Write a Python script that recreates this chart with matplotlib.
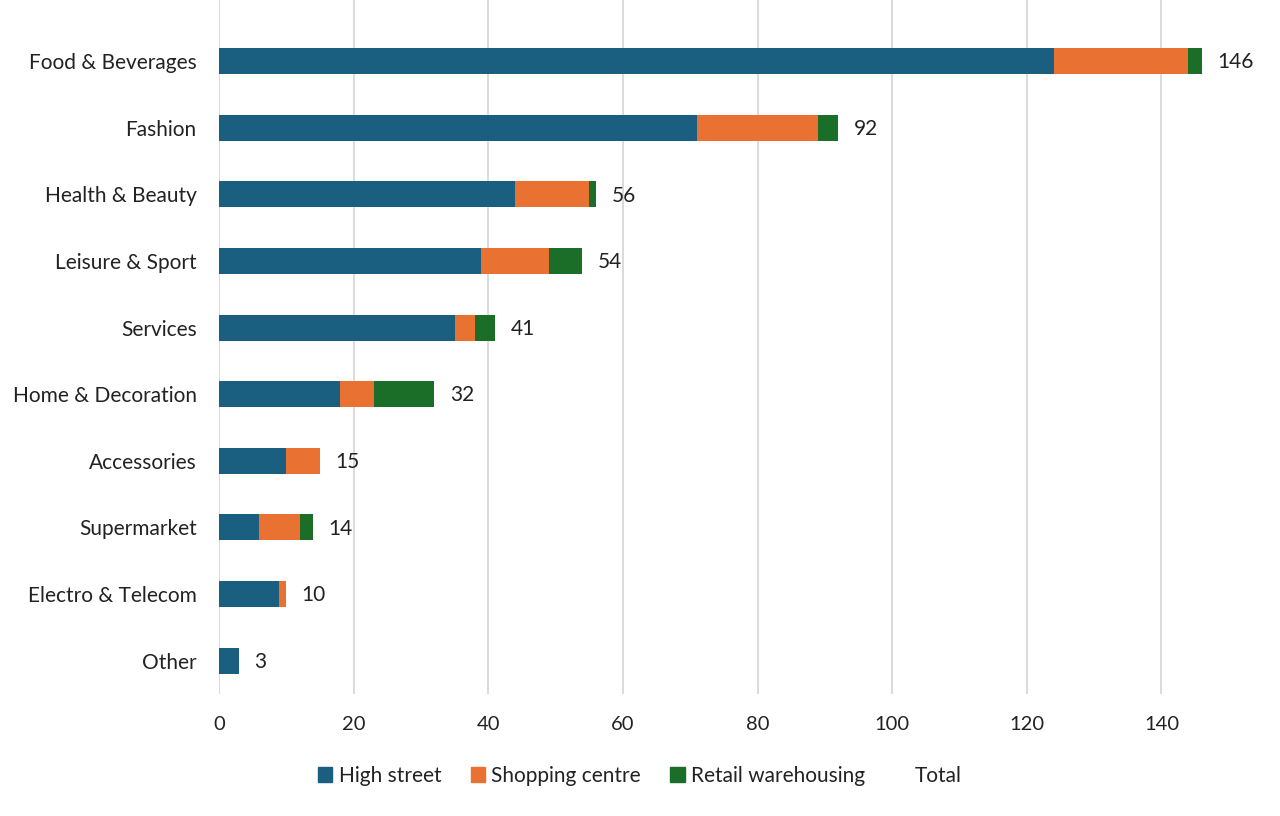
import matplotlib
matplotlib.use("Agg")
import matplotlib.pyplot as plt
from matplotlib.patches import Patch
import numpy as np

plt.rcParams['font.family'] = ['Lato', 'DejaVu Sans']

categories = ['Food & Beverages', 'Fashion', 'Health & Beauty', 'Leisure & Sport', 'Services',
              'Home & Decoration', 'Accessories', 'Supermarket', 'Electro & Telecom', 'Other']
high_street = [124, 71, 44, 39, 35, 18, 10, 6, 9, 3]
shopping_centre = [20, 18, 11, 10, 3, 5, 5, 6, 1, 0]
retail_warehousing = [2, 3, 1, 5, 3, 9, 0, 2, 0, 0]
totals = [146, 92, 56, 54, 41, 32, 15, 14, 10, 3]

c_hs = '#1a5e80'
c_sc = '#e97132'
c_rw = '#1b6e27'

fig = plt.figure(figsize=(12.8, 8.16), dpi=100)
ax = fig.add_axes([0.171, 0.1495, 0.789, 0.8505])

y = np.arange(len(categories))
h = 0.39
hs = np.array(high_street)
sc = np.array(shopping_centre)
rw = np.array(retail_warehousing)
ax.barh(y, hs, height=h, color=c_hs, zorder=3)
ax.barh(y, sc, height=h, left=hs, color=c_sc, zorder=3)
ax.barh(y, rw, height=h, left=hs + sc, color=c_rw, zorder=3)

for yi, t in zip(y, totals):
    ax.text(t + 2.3, yi + 0.02, str(t), va='center', ha='left', fontsize=15, color='#222222')

ax.set_xlim(0, 150)
ax.set_ylim(9.5, -0.915)
ax.set_xticks(range(0, 141, 20))
ax.set_yticks(y)
ax.set_yticklabels(categories)
ax.tick_params(axis='y', length=0, pad=16, labelsize=15, labelcolor='#222222')
ax.tick_params(axis='x', length=0, pad=16, labelsize=14.5, labelcolor='#222222')
ax.grid(axis='x', color='#d4d4d4', linewidth=1.2, zorder=0)
for s in ax.spines.values():
    s.set_visible(False)

handles = [Patch(color=c_hs), Patch(color=c_sc), Patch(color=c_rw), Patch(color='none')]
labels = ['High street', 'Shopping centre', 'Retail warehousing', 'Total']
fig.legend(handles, labels, loc='center', bbox_to_anchor=(0.5, 0.049), ncol=4, frameon=False,
           fontsize=15, handlelength=0.7, handleheight=0.7, handletextpad=0.3, columnspacing=1.4,
           labelcolor='#222222')

fig.savefig('out.png', dpi=100)
